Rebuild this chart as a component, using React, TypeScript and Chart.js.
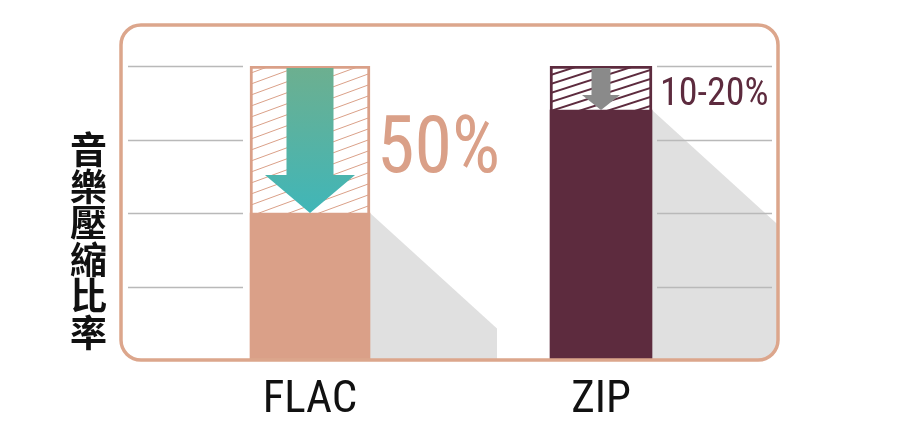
import React, { useEffect, useRef } from "react";
import { Chart, registerables } from "chart.js";

Chart.register(...registerables);

// ---- data ----
const categories = ["FLAC", "ZIP"];
const compressedValues = [50, 85]; // remaining size (%)
const savedValues = [50, 15]; // reduced part (%)
const reductionLabels = ["50%", "10-20%"];
const yTitle = "音樂壓縮比率";
const gridValues = [25, 50, 75, 100];

// ---- styles ----
const SALMON = "#daa088";
const BORDER_SALMON = "#dca68c";
const MAROON = "#5d2b3e";
const SHADOW = "#e0e0e0";
const GRID = "#b9b9b9";
const NARROW = '"Liberation Sans Narrow", "Roboto Condensed", Roboto, sans-serif';

function makeHatch(ctx: CanvasRenderingContext2D, color: string, w: number, h: number, lw: number) {
  const c = document.createElement("canvas");
  c.width = w;
  c.height = h;
  const g = c.getContext("2d")!;
  g.fillStyle = "#ffffff";
  g.fillRect(0, 0, w, h);
  g.strokeStyle = color;
  g.lineWidth = lw;
  for (let n = -1; n <= 3; n++) {
    g.beginPath();
    g.moveTo(-w, h + n * h);
    g.lineTo(2 * w, -2 * h + n * h);
    g.stroke();
  }
  return ctx.createPattern(c, "repeat")!;
}

export default function App() {
  const ref = useRef<HTMLCanvasElement | null>(null);

  useEffect(() => {
    const canvas = ref.current!;
    const ctx = canvas.getContext("2d")!;
    const hatchSalmon = makeHatch(ctx, SALMON, 30, 11, 1);
    const hatchMaroon = makeHatch(ctx, MAROON, 28, 9, 2);

    const frameRect = (ca: any) => ({
      l: ca.left - 43.5,
      r: ca.right + 31.5,
      t: ca.top - 41,
      b: ca.bottom,
    });

    const roundRectPath = (c: CanvasRenderingContext2D, l: number, t: number, r: number, b: number, rad: number) => {
      c.beginPath();
      c.moveTo(l + rad, t);
      c.lineTo(r - rad, t);
      c.arcTo(r, t, r, t + rad, rad);
      c.lineTo(r, b - rad);
      c.arcTo(r, b, r - rad, b, rad);
      c.lineTo(l + rad, b);
      c.arcTo(l, b, l, b - rad, rad);
      c.lineTo(l, t + rad);
      c.arcTo(l, t, l + rad, t, rad);
      c.closePath();
    };

    const scaledText = (c: CanvasRenderingContext2D, text: string, x: number, y: number, sx: number) => {
      c.save();
      c.translate(x, y);
      c.scale(sx, 1);
      c.fillText(text, 0, 0);
      c.restore();
    };

    const decor = {
      id: "decor",
      beforeDatasetsDraw(chart: any) {
        const c: CanvasRenderingContext2D = chart.ctx;
        const ca = chart.chartArea;
        const f = frameRect(ca);
        const y = chart.scales.y;
        const flac = chart.getDatasetMeta(1).data[0];
        const zip = chart.getDatasetMeta(3).data[1];
        const flacSolid = chart.getDatasetMeta(0).data[0];
        const zipSolid = chart.getDatasetMeta(2).data[1];
        // shadows
        c.save();
        roundRectPath(c, f.l, f.t, f.r, f.b, 20);
        c.clip();
        c.fillStyle = SHADOW;
        [flacSolid, zipSolid].forEach((el: any) => {
          const xr = el.x + el.width / 2;
          const top = el.y;
          const w = 127;
          c.beginPath();
          c.moveTo(xr, top);
          c.lineTo(xr + w, top + w * 0.91);
          c.lineTo(xr + w, el.base);
          c.lineTo(xr, el.base);
          c.closePath();
          c.fill();
        });
        // grid segments
        c.strokeStyle = GRID;
        c.lineWidth = 1.3;
        gridValues.forEach((v) => {
          const py = Math.round(y.getPixelForValue(v)) + 0.5;
          c.beginPath();
          c.moveTo(f.l + 7, py);
          c.lineTo(flac.x - flac.width / 2 - 7, py);
          c.moveTo(zip.x + zip.width / 2 + 5, py);
          c.lineTo(f.r - 6, py);
          c.stroke();
        });
        c.restore();
      },
      afterDatasetsDraw(chart: any) {
        const c: CanvasRenderingContext2D = chart.ctx;
        const ca = chart.chartArea;
        const f = frameRect(ca);
        const flac = chart.getDatasetMeta(1).data[0];
        const zip = chart.getDatasetMeta(3).data[1];

        // arrows
        const arrow = (el: any, shaftW: number, headW: number, headH: number, fill: any) => {
          const cx = el.x;
          const top = el.y + 2;
          const tip = el.base;
          const ht = tip - headH;
          c.beginPath();
          c.moveTo(cx - shaftW / 2, top);
          c.lineTo(cx + shaftW / 2, top);
          c.lineTo(cx + shaftW / 2, ht);
          c.lineTo(cx + headW / 2, ht);
          c.lineTo(cx, tip);
          c.lineTo(cx - headW / 2, ht);
          c.lineTo(cx - shaftW / 2, ht);
          c.closePath();
          c.fillStyle = fill;
          c.fill();
        };
        const grad = c.createLinearGradient(0, flac.y, 0, flac.base);
        grad.addColorStop(0, "#6daf8f");
        grad.addColorStop(1, "#40b6b8");
        arrow(flac, 47, 90, 38, grad);
        arrow(zip, 19, 38, 15, "#8a8a8a");

        // reduction labels
        c.save();
        c.textAlign = "left";
        c.textBaseline = "alphabetic";
        c.fillStyle = SALMON;
        c.font = `80px ${NARROW}`;
        scaledText(c, reductionLabels[0], flac.x + flac.width / 2 + 7, flac.base - 41, 0.95);
        c.fillStyle = MAROON;
        c.font = `38px ${NARROW}`;
        scaledText(c, reductionLabels[1], zip.x + zip.width / 2 + 8, zip.y + 39, 1.0);
        c.restore();

        // frame
        c.save();
        c.strokeStyle = BORDER_SALMON;
        c.lineWidth = 3.5;
        roundRectPath(c, f.l, f.t, f.r, f.b, 20);
        c.stroke();
        c.restore();

        // vertical y title
        c.save();
        c.fillStyle = "#111";
        c.font = '700 37px "Noto Sans CJK TC", "Noto Sans CJK SC", sans-serif';
        c.textAlign = "center";
        c.textBaseline = "middle";
        Array.from(yTitle).forEach((ch, i) => {
          c.fillText(ch, ca.left - 76, ca.top + 84 + i * 36.5);
        });
        c.restore();
      },
    };

    const chart = new Chart(canvas, {
      type: "bar",
      data: {
        labels: categories,
        datasets: [
          {
            label: "FLAC 壓縮後",
            data: [compressedValues[0], null],
            backgroundColor: SALMON,
            barThickness: 120,
          },
          {
            label: "FLAC 減少",
            data: [savedValues[0], null],
            backgroundColor: hatchSalmon,
            borderColor: SALMON,
            borderWidth: 3,
            barThickness: 120,
          },
          {
            label: "ZIP 壓縮後",
            data: [null, compressedValues[1]],
            backgroundColor: MAROON,
            barThickness: 102,
          },
          {
            label: "ZIP 減少",
            data: [null, savedValues[1]],
            backgroundColor: hatchMaroon,
            borderColor: MAROON,
            borderWidth: 3,
            barThickness: 102,
          },
        ] as any,
      },
      options: {
        animation: false,
        responsive: true,
        maintainAspectRatio: false,
        layout: { padding: { left: 164.5, right: 153.5, top: 66, bottom: -5 } },
        plugins: { legend: { display: false }, tooltip: { enabled: false } },
        scales: {
          x: {
            stacked: true,
            grid: { display: false, drawTicks: false },
            border: { display: false },
            ticks: { font: { family: NARROW, size: 45 }, color: "#111", padding: 14 },
          },
          y: { stacked: true, display: false, min: 0, max: 100 },
        },
      },
      plugins: [decor],
    });
    return () => chart.destroy();
  }, []);

  return (
    <div style={{ position: "fixed", left: 0, top: 0, width: 900, height: 437, background: "#fff" }}>
      <canvas ref={ref} />
    </div>
  );
}
